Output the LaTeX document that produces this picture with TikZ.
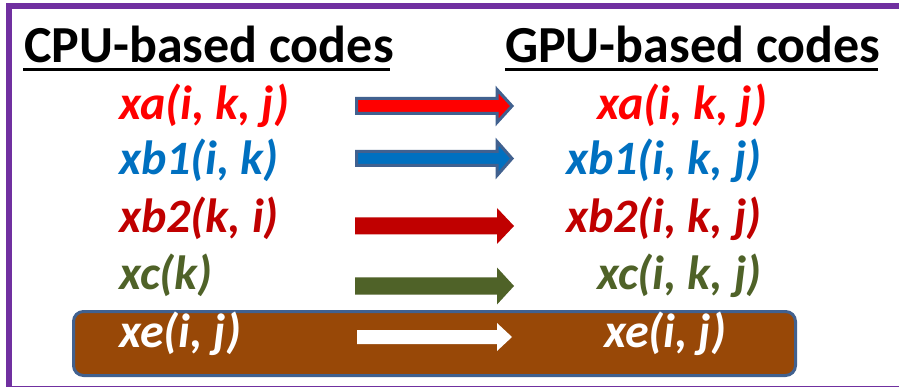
\documentclass[tikz,border=0pt]{standalone}
\usepackage{fontspec}
\setmainfont{Carlito}
\definecolor{frame}{HTML}{7030A0}
\definecolor{outl}{HTML}{41618F}
\definecolor{cred}{HTML}{FF0000}
\definecolor{cblue}{HTML}{0070C0}
\definecolor{cdred}{HTML}{C00000}
\definecolor{cgreen}{HTML}{4F6228}
\definecolor{cbrown}{HTML}{984807}
\tikzset{
  header/.style={inner sep=0pt, anchor=base west, font=\fontsize{52}{60}\selectfont\bfseries},
  lbl/.style={inner sep=0pt, anchor=base west, font=\fontsize{48}{56}\selectfont\bfseries\itshape},
  uline/.style={line width=3pt},
}
\begin{document}
\begin{tikzpicture}[x=1pt,y=-1pt]
\useasboundingbox (0,0) rectangle (899,387);
\fill[white] (0,0) rectangle (899,387);
\begin{scope}
\clip (0,0) rectangle (899,387);
\draw[frame, line width=6pt] (9,6) rectangle (910,389);
\end{scope}
% brown box
\draw[outl, line width=3pt, fill=cbrown, rounded corners=10pt] (73.5,311.5) rectangle (795.5,375.5);
% headers
\node[header] (cpu) at (24,63) {CPU-based codes};
\node[header] (gpu) at (505,63) {GPU-based codes};
\draw[uline] (23,70) -- (390,70);
\draw[uline] (505,70) -- (878,70);
% left labels
\node[lbl, text=cred] (la) at (119,120) {xa(i, k, j)};
\node[lbl, text=cblue] (lb1) at (119,175) {xb1(i, k)};
\node[lbl, text=cdred] (lb2) at (119,233) {xb2(k, i)};
\node[lbl, text=cgreen] (lc) at (119,290) {xc(k)};
\node[lbl, text=white] (le) at (119,347) {xe(i, j)};
% right labels
\node[lbl, text=cred] (ra) at (597,120) {xa(i, k, j)};
\node[lbl, text=cblue] (rb1) at (566,175) {xb1(i, k, j)};
\node[lbl, text=cdred] (rb2) at (566,233) {xb2(i, k, j)};
\node[lbl, text=cgreen] (rc) at (597,290) {xc(i, k, j)};
\node[lbl, text=white] (re) at (604,347) {xe(i, j)};
% arrows
\draw[outl, line width=3pt, fill=cred, line join=miter]
  (356.5,98.5) -- (497,98.5) -- (497,89.5) -- (512,106) -- (497,122.5) -- (497,113.5) -- (356.5,113.5) -- cycle;
\draw[outl, line width=3pt, fill=cblue, line join=miter]
  (356.5,151.5) -- (497,151.5) -- (497,141.5) -- (512,158.5) -- (497,175.5) -- (497,165.5) -- (356.5,165.5) -- cycle;
\fill[cdred] (355,217.5) -- (497,217.5) -- (497,208) -- (514,226) -- (497,244) -- (497,234.5) -- (355,234.5) -- cycle;
\fill[cgreen] (355,277.5) -- (497,277.5) -- (497,267.5) -- (514,286) -- (497,304.5) -- (497,294.5) -- (355,294.5) -- cycle;
\fill[white] (357,330) -- (497,330) -- (497,323) -- (512,337) -- (497,351) -- (497,344) -- (357,344) -- cycle;
\end{tikzpicture}
\end{document}
